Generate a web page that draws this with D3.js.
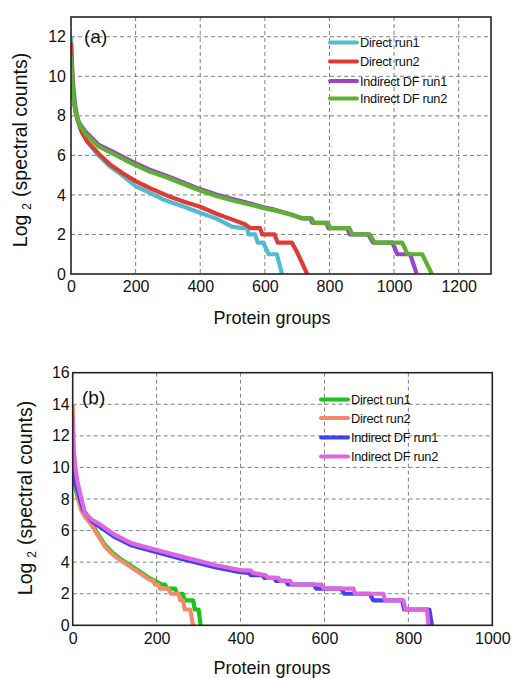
<!DOCTYPE html>
<html><head><meta charset="utf-8">
<script src="https://cdn.jsdelivr.net/npm/d3@7"></script>
<style>
body{margin:0;background:#fff;}
text{font-family:"Liberation Sans",Arial,Helvetica,sans-serif;fill:#111;}
</style></head>
<body>
<svg id="c" width="515" height="678"></svg>
<script>
// ---------- DATA ----------
const seriesNamesA = ["Direct run1","Direct run2","Indirect DF run1","Indirect DF run2"];
const seriesNamesB = ["Direct run1","Direct run2","Indirect DF run1","Indirect DF run2"];
const xTicksA = [0,200,400,600,800,1000,1200];
const yTicksA = [0,2,4,6,8,10,12];
const xTicksB = [0,200,400,600,800,1000];
const yTicksB = [0,2,4,6,8,10,12,14,16];

const aDirect1 = [[0,12],[2,11],[5,10],[10,9],[18,8],[30,7.3],[50,6.7],[85,6.0],[120,5.45],[150,5.1],[200,4.45],[250,4.05],[291,3.73],[350,3.4],[395,3.12],[450,2.8],[498,2.4],[530,2.32],[545,2.32],[550,2.0],[570,2.0],[578,1.585],[595,1.585],[612,1.0],[637,1.0],[653,0]];
const aDirect2 = [[0,11.7],[3,10.5],[6,9.5],[12,8.5],[20,7.8],[33,7.2],[50,6.7],[85,6.1],[120,5.55],[160,5.1],[200,4.7],[250,4.3],[300,3.95],[350,3.65],[400,3.4],[450,3.05],[500,2.75],[540,2.5],[555,2.32],[585,2.32],[592,2.0],[630,2.0],[640,1.585],[684,1.585],[700,1.1],[731,0]];
const aIndirect1 = [[0,11],[3,10],[7,9],[14,8.2],[25,7.65],[45,7.2],[85,6.55],[140,6.1],[188,5.7],[240,5.3],[291,5.0],[340,4.68],[395,4.32],[450,4.02],[498,3.8],[555,3.56],[600,3.36],[620,3.3],[655,3.13],[685,3.0],[715,2.81],[740,2.81],[747,2.585],[790,2.585],[797,2.32],[855,2.32],[863,2.0],[920,2.0],[935,1.585],[995,1.585],[1010,1.0],[1050,1.0],[1070,0]];
const aIndirect2 = [[0,11],[3,10],[7,9],[14,8.2],[25,7.6],[45,7.1],[85,6.45],[140,6.0],[188,5.6],[240,5.2],[291,4.92],[340,4.6],[395,4.25],[450,3.95],[498,3.73],[555,3.5],[600,3.32],[627,3.23],[660,3.1],[690,2.95],[720,2.81],[745,2.81],[752,2.585],[795,2.585],[802,2.32],[862,2.32],[870,2.0],[925,2.0],[940,1.585],[1025,1.585],[1042,1.0],[1087,1.0],[1117,0]];

const bDirect1 = [[0,10.8],[2,10],[4,9],[8,8.5],[13,8],[20,7.4],[29,7.0],[45,6.45],[60,5.8],[77,5.08],[95,4.6],[113,4.22],[149,3.6],[184,2.97],[196,2.81],[204,2.7],[212,2.585],[220,2.585],[225,2.32],[244,2.32],[248,2.0],[262,2.0],[267,1.585],[287,1.585],[291,1.0],[300,1.0],[305,0]];
const bDirect2 = [[0,14],[1,12.5],[2,11],[4,10],[7,9],[13,8],[20,7.3],[29,6.88],[45,6.35],[60,5.7],[77,4.98],[95,4.5],[113,4.13],[149,3.5],[184,2.87],[192,2.81],[196,2.585],[204,2.585],[208,2.32],[228,2.32],[234,2.0],[252,2.0],[256,1.585],[263,1.585],[267,1.0],[280,1.0],[287,0]];
const bIndirect1 = [[0,10.8],[3,10],[7,9],[15,8.2],[25,7.3],[45,6.6],[61,6.3],[101,5.58],[141,5.05],[200,4.63],[260,4.2],[339,3.68],[399,3.36],[420,3.32],[425,3.17],[452,3.17],[457,3.0],[480,3.0],[485,2.81],[508,2.81],[513,2.585],[575,2.585],[580,2.32],[640,2.32],[647,2.0],[708,2.0],[716,1.585],[785,1.585],[790,1.0],[850,1.0],[856,0]];
const bIndirect2 = [[0,13.2],[1,12],[3,11],[6,10],[12,9],[21,8],[29,7.1],[45,6.7],[61,6.46],[101,5.72],[141,5.19],[200,4.77],[260,4.35],[339,3.82],[399,3.5],[425,3.46],[430,3.32],[460,3.17],[465,3.0],[490,3.0],[495,2.81],[518,2.81],[523,2.585],[593,2.585],[598,2.32],[669,2.32],[673,2.0],[740,2.0],[745,1.585],[788,1.585],[793,1.0],[844,1.0],[848,0]];

// ---------- DRAW ----------
const svg = d3.select("#c");

function panel(cfg){
  const g = svg.append("g");
  const x = d3.scaleLinear().domain(cfg.xDomain).range([cfg.left, cfg.right]);
  const y = d3.scaleLinear().domain(cfg.yDomain).range([cfg.bottom, cfg.top]);
  const id = "clip"+cfg.key;
  svg.append("defs").append("clipPath").attr("id",id)
    .append("rect").attr("x",cfg.left).attr("y",cfg.top-3)
    .attr("width",cfg.right-cfg.left).attr("height",cfg.bottom-cfg.top+3);

  // grid
  g.append("g").selectAll("line").data(cfg.xTicks.filter(t=>t>cfg.xDomain[0] && t<cfg.xDomain[1]))
    .join("line").attr("x1",d=>x(d)).attr("x2",d=>x(d)).attr("y1",cfg.top).attr("y2",cfg.bottom)
    .attr("stroke","#808080").attr("stroke-width",1).attr("stroke-dasharray","4,3");
  g.append("g").selectAll("line").data(cfg.yTicks.filter(t=>t>cfg.yDomain[0] && t<cfg.yDomain[1]))
    .join("line").attr("y1",d=>y(d)).attr("y2",d=>y(d)).attr("x1",cfg.left).attr("x2",cfg.right)
    .attr("stroke","#808080").attr("stroke-width",1).attr("stroke-dasharray","4,3");

  // axes labels via d3 axes (no tick lines)
  const xa = g.append("g").attr("transform",`translate(0,${cfg.bottom})`)
    .call(d3.axisBottom(x).tickValues(cfg.xTicks).tickSize(0).tickPadding(cfg.xPad).tickFormat(d3.format("d")));
  const ya = g.append("g").attr("transform",`translate(${cfg.left},0)`)
    .call(d3.axisLeft(y).tickValues(cfg.yTicks).tickSize(0).tickPadding(cfg.yPad).tickFormat(d3.format("d")));
  [xa,ya].forEach(a=>{
    a.select(".domain").remove();
    a.selectAll("text").attr("font-size",16).attr("font-family","Liberation Sans, Arial, sans-serif").attr("fill","#111");
  });

  // lines
  const line = d3.line().x(d=>x(d[0])).y(d=>y(d[1]));
  const lg = g.append("g").attr("clip-path",`url(#${id})`);
  cfg.order.forEach(i=>{
    lg.append("path").datum(cfg.series[i]).attr("d",line)
      .attr("fill","none").attr("stroke",cfg.colors[i]).attr("stroke-width",4.2)
      .attr("stroke-linejoin","round");
  });

  // frame
  g.append("rect").attr("x",cfg.left).attr("y",cfg.top)
    .attr("width",cfg.right-cfg.left).attr("height",cfg.bottom-cfg.top)
    .attr("fill","none").attr("stroke","#222").attr("stroke-width",1.6);

  // panel tag
  g.append("text").attr("x",cfg.tagX).attr("y",cfg.tagY).attr("font-size",19).text(cfg.tag);

  // legend
  cfg.names.forEach((n,i)=>{
    const yy = cfg.legY[i];
    g.append("line").attr("x1",cfg.legX1).attr("x2",cfg.legX2).attr("y1",yy).attr("y2",yy)
      .attr("stroke",cfg.colors[i]).attr("stroke-width",4).attr("stroke-linecap","round");
    g.append("text").attr("x",cfg.legX2+3).attr("y",yy+4.5).attr("font-size",12.8)
      .attr("letter-spacing","-0.3").text(n);
  });

  // axis titles
  g.append("text").attr("x",cfg.xTitleX).attr("y",cfg.xTitleY).attr("text-anchor","middle")
    .attr("font-size",18).text("Protein groups");
  const yt = g.append("text").attr("transform",`translate(${cfg.yTitleX},${cfg.yTitleY}) rotate(-90)`)
    .attr("text-anchor","middle").attr("font-size",19.5);
  yt.append("tspan").text("Log");
  yt.append("tspan").attr("font-size",12).attr("dy",4).attr("dx",5).text("2");
  yt.append("tspan").attr("dy",-4).attr("dx",6).text("(spectral counts)");
}

panel({
  key:"a", xDomain:[0,1300], yDomain:[0,13], left:71, right:491, top:17, bottom:274,
  xTicks:xTicksA, yTicks:yTicksA, xPad:7, yPad:5,
  series:[aDirect1,aDirect2,aIndirect1,aIndirect2], order:[0,1,2,3],
  colors:["#52BBD0","#DF3B36","#9A46C6","#5DB131"], names:seriesNamesA,
  tag:"(a)", tagX:84, tagY:43,
  legX1:330, legX2:357, legY:[42.5,61.5,81,98.5],
  xTitleX:272, xTitleY:324, yTitleX:27, yTitleY:150
});
panel({
  key:"b", xDomain:[0,1000], yDomain:[0,16], left:72.7, right:492.3, top:372.7, bottom:625.3,
  xTicks:xTicksB, yTicks:yTicksB, xPad:7, yPad:3,
  series:[bDirect1,bDirect2,bIndirect1,bIndirect2], order:[0,1,2,3],
  colors:["#18C418","#F28B6B","#4242EE","#DE66DE"], names:seriesNamesB,
  tag:"(b)", tagX:82, tagY:404,
  legX1:321, legX2:348, legY:[399.5,418,437.5,456.5],
  xTitleX:272, xTitleY:674, yTitleX:32, yTitleY:498
});
</script>
</body></html>
